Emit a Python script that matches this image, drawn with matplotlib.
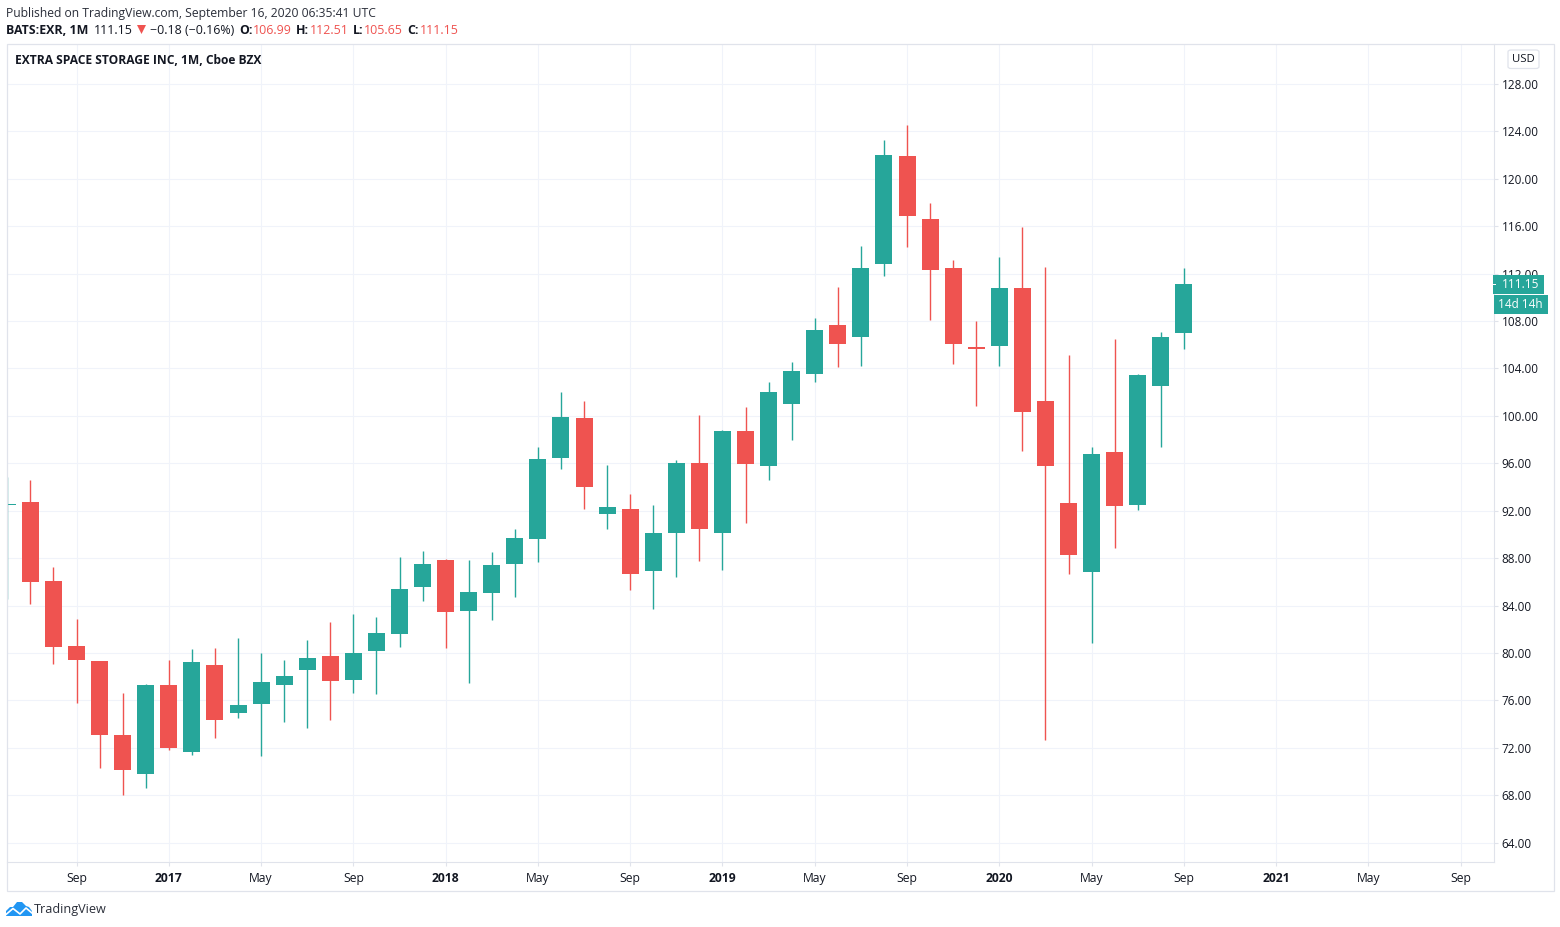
import matplotlib
matplotlib.use("Agg")
import matplotlib.pyplot as plt
from matplotlib.patches import Rectangle, FancyBboxPatch, Polygon

UP = "#26a69a"
DOWN = "#ef5350"
GRID = "#f0f3fa"
FRAME = "#e0e3eb"
TEXT = "#131722"

W, H = 1560, 927
plt.rcParams['font.family'] = ['Open Sans', 'DejaVu Sans']

# monthly candles, Jun 2016 - Sep 2020
opens = [92.5, 92.71, 86.05, 80.57, 79.31, 73.07, 69.78, 77.28, 71.63, 78.97,
         74.92, 75.68, 77.28, 78.55, 79.73, 77.7, 80.15, 81.58, 85.55, 87.82,
         83.52, 85.04, 87.49, 89.59, 96.42, 99.79, 91.7, 92.12, 86.89, 90.1,
         96.0, 90.1, 98.7, 95.75, 100.98, 103.5, 107.64, 106.62, 112.78, 121.89,
         116.57, 112.44, 105.78, 105.87, 110.76, 101.23, 92.63, 86.81, 96.93, 92.46,
         102.49, 106.99]
highs = [94.82, 94.57, 87.23, 82.85, 79.31, 76.61, 77.37, 79.39, 80.32, 80.4,
         81.25, 79.98, 79.39, 81.08, 82.6, 83.27, 83.02, 88.07, 88.58, 87.91,
         87.82, 88.5, 90.44, 97.35, 101.99, 101.23, 95.83, 93.39, 92.46, 96.25,
         100.05, 98.78, 100.72, 102.83, 104.52, 108.23, 110.84, 114.3, 123.24, 124.5,
         117.92, 113.12, 107.97, 113.37, 115.9, 112.53, 105.11, 97.35, 106.46, 103.5,
         107.05, 112.51]
lows = [84.53, 84.11, 79.05, 75.76, 70.28, 68.0, 68.6, 71.8, 71.38, 72.81,
        74.5, 71.3, 74.16, 73.66, 74.33, 76.61, 76.52, 80.49, 84.36, 80.4,
        77.45, 82.76, 84.7, 87.65, 95.49, 92.12, 90.44, 85.29, 83.69, 86.39,
        87.74, 86.98, 90.94, 94.57, 97.94, 102.83, 104.1, 104.18, 111.77, 114.21,
        108.06, 104.35, 100.81, 104.18, 97.01, 72.64, 86.64, 80.82, 88.83, 92.04,
        97.35, 105.65]
closes = [92.6, 85.97, 80.49, 79.39, 73.07, 70.11, 77.28, 71.97, 79.22, 74.33,
          75.6, 77.53, 78.04, 79.56, 77.62, 79.98, 81.67, 85.38, 87.49, 83.44,
          85.12, 87.4, 89.68, 96.34, 99.88, 93.97, 92.29, 86.64, 90.1, 96.0,
          90.44, 98.7, 95.92, 101.99, 103.76, 107.22, 106.03, 112.44, 121.97, 116.83,
          112.27, 106.03, 105.61, 110.76, 100.3, 95.75, 88.24, 96.76, 92.38, 103.42,
          106.62, 111.15]

price_ticks = [64, 68, 72, 76, 80, 84, 88, 92, 96, 100, 104, 108, 112, 116, 120, 124, 128]
# month position counted from Jun 2016
time_ticks = [3, 7, 11, 15, 19, 23, 27, 31, 35, 39, 43, 47, 51, 55, 59, 63]
time_labels = ["Sep", "2017", "May", "Sep", "2018", "May", "Sep", "2019", "May",
               "Sep", "2020", "May", "Sep", "2021", "May", "Sep"]


def fx(x):
    return x / W


def fy(y):
    return 1 - y / H


def label(x, y, s, **kw):
    kw.setdefault("fontsize", 8.75)
    kw.setdefault("color", TEXT)
    kw.setdefault("va", "center")
    return fig.text(fx(x), fy(y), s, **kw)


fig = plt.figure(figsize=(W / 100, H / 100), dpi=100, facecolor="white")
ax = fig.add_axes([fx(6.5), fy(861.5), fx(1493.5 - 6.5), (861.5 - 43.5) / H])
ax.set_xlim(-0.035, 64.42)
ax.set_ylim(62.42, 131.40)
ax.set_axisbelow(True)
ax.grid(True, color=GRID, lw=0.8)

for s in ["top", "left"]:
    ax.spines[s].set_visible(False)
for s in ["bottom", "right"]:
    ax.spines[s].set_color(FRAME)
    ax.spines[s].set_linewidth(0.8)

for i in range(len(opens)):
    c = UP if closes[i] >= opens[i] else DOWN
    ax.vlines(i, lows[i], highs[i], color=c, lw=1.0, zorder=2)
    ax.bar(i, abs(closes[i] - opens[i]), bottom=min(opens[i], closes[i]),
           width=0.737, color=c, linewidth=0, zorder=3)

ax.yaxis.tick_right()
ax.set_yticks(price_ticks)
ax.set_yticklabels([f"{p:.2f}" for p in price_ticks], fontsize=8.5, color=TEXT)
ax.set_xticks(time_ticks)
ax.set_xticklabels(time_labels, fontsize=8.7, color=TEXT)
ax.tick_params(axis="x", length=3, width=0.8, color=FRAME, pad=4.5)
ax.tick_params(axis="y", length=3, width=0.8, color=FRAME, pad=3)
for t in ax.get_xticklabels():
    if t.get_text().isdigit():
        t.set_fontweight("bold")

# outer frame
fig.add_artist(Rectangle((fx(6.5), fy(890.5)), fx(1553.5 - 6.5), (890.5 - 43.5) / H,
                         fill=False, ec=FRAME, lw=0.9, transform=fig.transFigure))

# header
label(6, 13, "Published on TradingView.com, September 16, 2020 06:35:41 UTC", color="#2a2e39")
label(6, 30, "BATS:EXR, 1M", fontweight="bold", fontsize=8.9)
label(94, 30, "111.15", fontsize=8.9)
fig.add_artist(Polygon([(fx(137), fy(25)), (fx(146), fy(25)), (fx(141.5), fy(34))],
                       closed=True, fc=DOWN, ec="none", transform=fig.transFigure))
label(150, 30, "\u22120.18 (\u22120.16%)", fontsize=8.9)
for x_key, key, x_val, val in [(239, "O:", 253, "106.99"), (296, "H:", 310, "112.51"),
                               (353, "L:", 364, "105.65"), (407, "C:", 420, "111.15")]:
    label(x_key, 30, key, fontweight="bold", fontsize=8.9)
    label(x_val, 30, val, color=DOWN, fontsize=8.9)
label(15, 61, "EXTRA SPACE STORAGE INC, 1M, Cboe BZX", fontweight="bold", fontsize=8.68)

# price scale extras
fig.add_artist(FancyBboxPatch((fx(1508), fy(68.5)), fx(31), 18.5 / H,
                              boxstyle="round,pad=0,rounding_size=0.002", fc="white", ec=FRAME, lw=0.9,
                              transform=fig.transFigure))
label(1523, 59.5, "USD", ha="center", fontsize=8.2)
fig.add_artist(Rectangle((fx(1493), fy(294)), fx(51), 19 / H, fc=UP, ec="none", transform=fig.transFigure))
fig.add_artist(Rectangle((fx(1493), fy(285)), fx(3), 1 / H, fc="white", ec="none", transform=fig.transFigure))
label(1502, 285, "111.15", color="white", fontsize=8.5)
fig.add_artist(Rectangle((fx(1494), fy(314)), fx(54), 19 / H, fc=UP, ec="none", transform=fig.transFigure))
label(1498, 305, "14d 14h", color="white", fontsize=8.5)

# logo
cloud = [(6, 916), (6, 911), (10, 907), (13, 907), (17, 902), (22, 902), (26, 906), (29, 907), (32, 911), (32, 916)]
fig.add_artist(Polygon([(fx(x), fy(y)) for x, y in cloud], closed=True, fc="#2196f3", ec="none",
                       transform=fig.transFigure))
zig = [(6, 914.5), (13, 908.5), (20, 914), (26, 908), (32, 913)]
fig.add_artist(plt.Line2D([fx(x) for x, y in zig], [fy(y) for x, y in zig], color="white", lw=1.2,
                          transform=fig.transFigure))
label(34, 909, "TradingView", fontsize=9.1, color="#2a2e39")

fig.savefig("out.png", dpi=100)
